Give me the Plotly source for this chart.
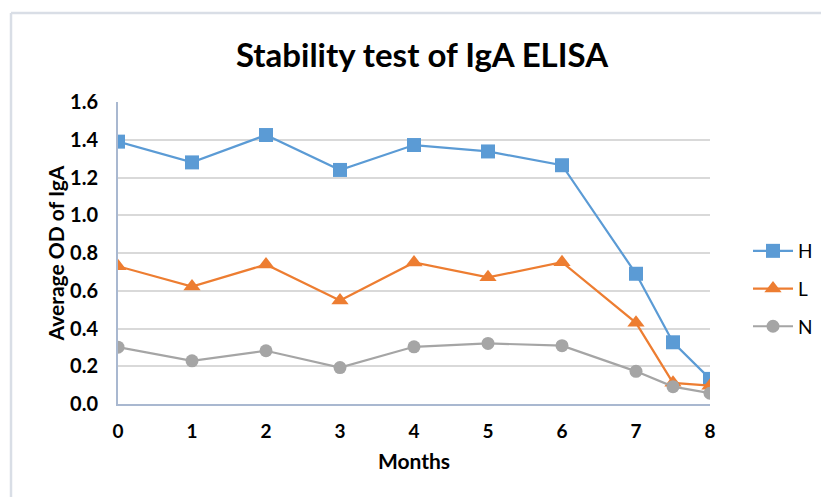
import plotly.graph_objects as go

months = [0, 1, 2, 3, 4, 5, 6, 7, 7.5, 8]
H = [1.39, 1.28, 1.425, 1.24, 1.372, 1.338, 1.265, 0.69, 0.327, 0.133]
L = [0.73, 0.622, 0.739, 0.548, 0.75, 0.671, 0.751, 0.43, 0.112, 0.097]
N = [0.301, 0.229, 0.282, 0.193, 0.303, 0.321, 0.309, 0.173, 0.092, 0.057]
x_ticks = [0, 1, 2, 3, 4, 5, 6, 7, 8]
y_ticks = [0, 0.2, 0.4, 0.6, 0.8, 1.0, 1.2, 1.4, 1.6]

FONT = "Lato"
fig = go.Figure()
series = [
    ("H", H, "#5b9bd5", "square", 14),
    ("L", L, "#ed7d31", "triangle-up", 15),
    ("N", N, "#a5a5a5", "circle", 13),
]
for name, vals, color, sym, size in series:
    fig.add_trace(go.Scatter(
        x=months, y=vals, name=name, mode="lines+markers",
        line=dict(color=color, width=2.2),
        marker=dict(color=color, symbol=sym, size=size, line=dict(width=0)),
        legendgroup=name,
    ))

W, Hh = 821, 497
l, r, t, b = 118, 111, 102, 93
pw, ph = W - l - r, Hh - t - b

def px(xp):
    return (xp - l) / pw

def py(yp):
    return (Hh - b - yp) / ph

fig.update_layout(
    width=W, height=Hh,
    margin=dict(l=l, r=r, t=t, b=b, autoexpand=False),
    paper_bgcolor="white", plot_bgcolor="white",
    font=dict(family=FONT, color="#000000"),
    title=dict(text="<b>Stability test of IgA ELISA</b>", x=422 / W, xref="container",
               xanchor="center", y=1 - 55 / Hh, yanchor="middle", font=dict(size=33, family=FONT)),
    xaxis=dict(range=[0, 8], tickvals=x_ticks, ticktext=[f"<b>{v}</b>" for v in x_ticks],
               showgrid=False, zeroline=False, showline=True, linecolor="#a9b8d0", linewidth=2,
               ticks="", tickfont=dict(size=19), ticklabelstandoff=9, automargin=False,
               title=dict(text="<b>Months</b>", font=dict(size=21), standoff=14)),
    yaxis=dict(range=[0, 1.6], tickvals=y_ticks, ticktext=[f"<b>{v:.1f}</b>" for v in y_ticks],
               showgrid=True, gridcolor="#d9d9d9", gridwidth=2, zeroline=False,
               showline=True, linecolor="#a9b8d0", linewidth=2, ticks="",
               tickfont=dict(size=20), ticklabelstandoff=14, automargin=False,
               title=dict(text="<b>Average OD of IgA</b>", font=dict(size=21), standoff=0)),
    legend=dict(x=px(748), y=py(289), xanchor="left", yanchor="middle",
                font=dict(size=19), tracegroupgap=10, itemwidth=40),
    showlegend=True,
)

bc = "#d9dee6"
fig.add_shape(type="line", xref="paper", yref="paper", x0=px(11), x1=px(11),
              y0=py(Hh + 5), y1=py(13), line=dict(color=bc, width=2.5))
fig.add_shape(type="line", xref="paper", yref="paper", x0=px(11), x1=px(W + 5),
              y0=py(13), y1=py(13), line=dict(color=bc, width=2.5))

fig.write_html("out.html", config={"displayModeBar": False},
               post_script="document.body.style.margin='0';document.body.style.overflow='hidden';")
